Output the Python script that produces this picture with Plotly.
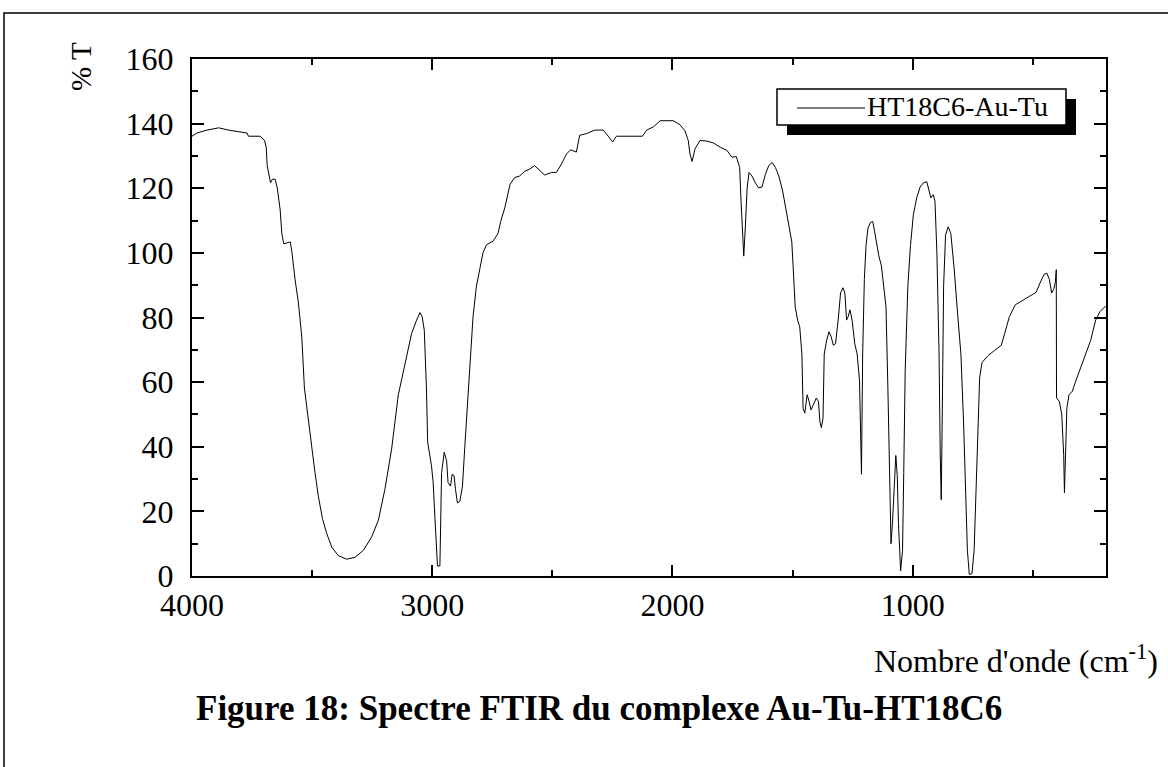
import plotly.graph_objects as go

# ---- data ----
wavenumber = [
    4000, 3979, 3938, 3889, 3848, 3820, 3771, 3765, 3716, 3698, 3691, 3687, 3679, 3673,
    3665, 3654, 3645, 3633, 3626, 3618, 3591, 3584, 3571, 3557, 3543, 3532, 3518, 3501,
    3488, 3474, 3457, 3439, 3418, 3391, 3356, 3321, 3287, 3252, 3224, 3197, 3169, 3141,
    3114, 3086, 3065, 3051, 3042, 3033, 3024, 3019, 3003, 2996, 2986, 2978, 2968, 2961,
    2950, 2940, 2934, 2924, 2917, 2909, 2903, 2895, 2885, 2874, 2864, 2853, 2843, 2830,
    2816, 2802, 2788, 2774, 2747, 2726, 2715, 2698, 2690, 2676, 2657, 2636, 2616, 2595,
    2574, 2553, 2532, 2503, 2483, 2462, 2441, 2424, 2400, 2386, 2358, 2323, 2288, 2267,
    2249, 2233, 2191, 2125, 2107, 2079, 2051, 1996, 1968, 1948, 1934, 1927, 1918, 1906,
    1885, 1857, 1829, 1801, 1773, 1752, 1734, 1720, 1715, 1708, 1703, 1696, 1689, 1681,
    1669, 1655, 1641, 1627, 1613, 1599, 1585, 1571, 1557, 1541, 1528, 1514, 1503, 1497,
    1489, 1479, 1470, 1461, 1456, 1449, 1439, 1431, 1423, 1413, 1401, 1392, 1386, 1380,
    1373, 1368, 1358, 1348, 1339, 1330, 1321, 1310, 1300, 1290, 1282, 1275, 1268, 1261,
    1252, 1241, 1231, 1221, 1217, 1213, 1208, 1201, 1194, 1186, 1176, 1166, 1158, 1148,
    1141, 1130, 1121, 1111, 1103, 1096, 1090, 1084, 1075, 1070, 1064, 1059, 1050, 1042,
    1037, 1031, 1020, 1009, 997, 983, 969, 955, 941, 932, 924, 914, 907, 899,
    890, 885, 881, 877, 871, 863, 852, 841, 827, 813, 799, 788, 780, 772,
    764, 753, 744, 735, 725, 721, 711, 686, 659, 631, 617, 597, 573, 535,
    486, 466, 452, 441, 431, 421, 413, 406, 402, 401, 389, 379, 371, 368,
    363, 358, 349, 335, 321, 300, 280, 259, 238, 220, 206, 196,
]
transmittance = [
    136.1, 137.1, 138.0, 138.7, 138.0, 137.7, 137.1, 136.1, 136.1, 134.8, 132.7, 127.0, 123.8, 121.7,
    122.8, 122.8, 120.1, 113.3, 106.0, 102.8, 103.4, 100.2, 91.8, 84.5, 74.0, 58.2, 49.8, 39.3,
    32.0, 24.7, 17.8, 13.1, 8.9, 6.3, 5.2, 5.8, 7.9, 12.1, 17.3, 26.8, 39.3, 56.1,
    65.6, 75.0, 79.2, 81.5, 80.3, 76.1, 58.2, 41.4, 34.1, 28.9, 14.2, 3.1, 3.1, 32.0,
    38.3, 35.7, 28.9, 27.8, 31.5, 31.0, 26.8, 22.6, 23.1, 27.8, 40.4, 54.0, 66.6, 80.3,
    89.7, 95.0, 100.2, 102.5, 103.6, 106.0, 109.7, 113.9, 117.0, 121.2, 123.3, 123.8, 125.2, 125.9,
    127.0, 125.6, 124.1, 124.9, 124.9, 127.5, 130.6, 131.9, 131.2, 136.4, 136.9, 138.0, 138.0, 136.1,
    134.3, 136.1, 136.1, 136.1, 138.0, 139.0, 140.9, 140.9, 139.6, 137.8, 134.8, 130.6, 128.3, 132.2,
    134.8, 134.6, 134.0, 132.7, 131.7, 129.6, 129.8, 126.4, 117.0, 105.5, 99.0, 108.6, 120.1, 124.9,
    123.8, 121.7, 120.1, 120.4, 124.3, 127.0, 128.0, 126.4, 123.8, 119.1, 113.9, 107.6, 103.4, 95.0,
    83.4, 79.2, 77.1, 68.7, 51.9, 50.4, 56.1, 54.0, 51.4, 53.0, 55.1, 54.0, 47.7, 45.9,
    48.8, 68.7, 72.9, 75.6, 74.0, 71.4, 71.9, 79.2, 87.6, 89.2, 87.6, 79.2, 80.3, 82.4,
    79.2, 71.9, 68.7, 60.3, 42.5, 31.5, 68.7, 91.8, 102.3, 107.6, 109.4, 109.7, 106.5, 101.3,
    99.2, 96.0, 89.7, 83.4, 58.2, 26.8, 10.0, 16.3, 28.9, 37.3, 31.0, 16.3, 1.6, 7.9,
    32.0, 63.5, 89.7, 102.3, 111.8, 117.0, 120.4, 121.7, 122.0, 119.6, 117.0, 118.0, 116.0, 100.2,
    68.7, 37.3, 23.6, 47.7, 89.7, 105.5, 108.1, 106.0, 95.0, 81.3, 68.7, 47.7, 26.8, 7.9,
    0.5, 0.7, 7.9, 26.8, 47.7, 61.4, 66.1, 68.2, 69.8, 71.4, 75.0, 80.3, 83.9, 85.7,
    87.8, 91.3, 93.4, 93.7, 91.8, 87.6, 88.7, 90.8, 94.8, 55.1, 54.0, 49.8, 37.3, 25.7,
    37.3, 51.9, 56.1, 57.2, 60.3, 64.5, 68.7, 72.9, 79.2, 81.8, 82.9, 83.5,
]

series_name = "HT18C6-Au-Tu"
x_tick_values = [4000, 3000, 2000, 1000]
x_minor_values = [3500, 2500, 1500, 500]
y_tick_values = [0, 20, 40, 60, 80, 100, 120, 140, 160]
y_minor_values = [10, 30, 50, 70, 90, 110, 130, 150]
x_title = "Nombre d'onde (cm<sup>-1</sup>)"
y_title = "% T"
caption = "Figure 18: Spectre FTIR du complexe Au-Tu-HT18C6"

# ---- layout geometry (pixels) ----
W, H = 1168, 767
L, R, T, B = 192, 1106, 59, 576
PW, PH = R - L, B - T


def px(x):
    return (x - L) / PW


def py(y):
    return (B - y) / PH


FONT = "Liberation Serif, Times New Roman, serif"

fig = go.Figure()
fig.add_trace(go.Scatter(
    x=wavenumber, y=transmittance, mode="lines", name=series_name,
    line=dict(color="black", width=1), showlegend=False,
))

axis_common = dict(
    showgrid=False, zeroline=False, showline=True, linecolor="black", linewidth=2,
    mirror="ticks", ticks="inside", tickcolor="black", tickwidth=2,
    tickfont=dict(family=FONT, size=32, color="black"),
)

fig.update_xaxes(
    range=[4000, 195], tickvals=x_tick_values, ticklen=11,
    minor=dict(tickvals=x_minor_values, ticks="inside", ticklen=6, tickcolor="black", tickwidth=2),
    ticklabelstandoff=0,
    **axis_common,
)
fig.update_yaxes(
    range=[0, 160], tickvals=y_tick_values, ticklen=12,
    minor=dict(tickvals=y_minor_values, ticks="inside", ticklen=6, tickcolor="black", tickwidth=2),
    ticklabelstandoff=10,
    **axis_common,
)

shapes = [
    # page frame
    dict(type="rect", xref="paper", yref="paper", x0=px(4), x1=px(1300), y0=py(900), y1=py(13),
         line=dict(color="black", width=1.5), fillcolor="rgba(0,0,0,0)", layer="below"),
    # legend shadow
    dict(type="rect", xref="paper", yref="paper", x0=px(787), x1=px(1076), y0=py(135), y1=py(99),
         line=dict(color="black", width=0), fillcolor="black"),
    # legend box
    dict(type="rect", xref="paper", yref="paper", x0=px(777), x1=px(1066), y0=py(125), y1=py(89),
         line=dict(color="black", width=1.5), fillcolor="white"),
    # legend sample line
    dict(type="line", xref="paper", yref="paper", x0=px(797), x1=px(865), y0=py(108), y1=py(108),
         line=dict(color="black", width=1)),
]

annotations = [
    dict(text=series_name, xref="paper", yref="paper", x=px(865), y=py(107),
         xanchor="left", yanchor="middle", showarrow=False,
         font=dict(family=FONT, size=28, color="black")),
    dict(text=y_title, xref="paper", yref="paper", x=px(81), y=py(67), textangle=-90,
         xanchor="center", yanchor="middle", showarrow=False,
         font=dict(family=FONT, size=29, color="black")),
    dict(text=x_title, xref="paper", yref="paper", x=px(872), y=py(659),
         xanchor="left", yanchor="middle", showarrow=False,
         font=dict(family=FONT, size=32, color="black")),
    dict(text="<b>" + caption + "</b>", xref="paper", yref="paper", x=px(194), y=py(708),
         xanchor="left", yanchor="middle", showarrow=False,
         font=dict(family=FONT, size=35, color="black")),
]

fig.update_layout(
    width=W, height=H,
    margin=dict(l=L, r=W - R, t=T, b=H - B, pad=0),
    paper_bgcolor="white", plot_bgcolor="white",
    shapes=shapes, annotations=annotations,
    font=dict(family=FONT, color="black"),
)

fig.write_html("out.html")
